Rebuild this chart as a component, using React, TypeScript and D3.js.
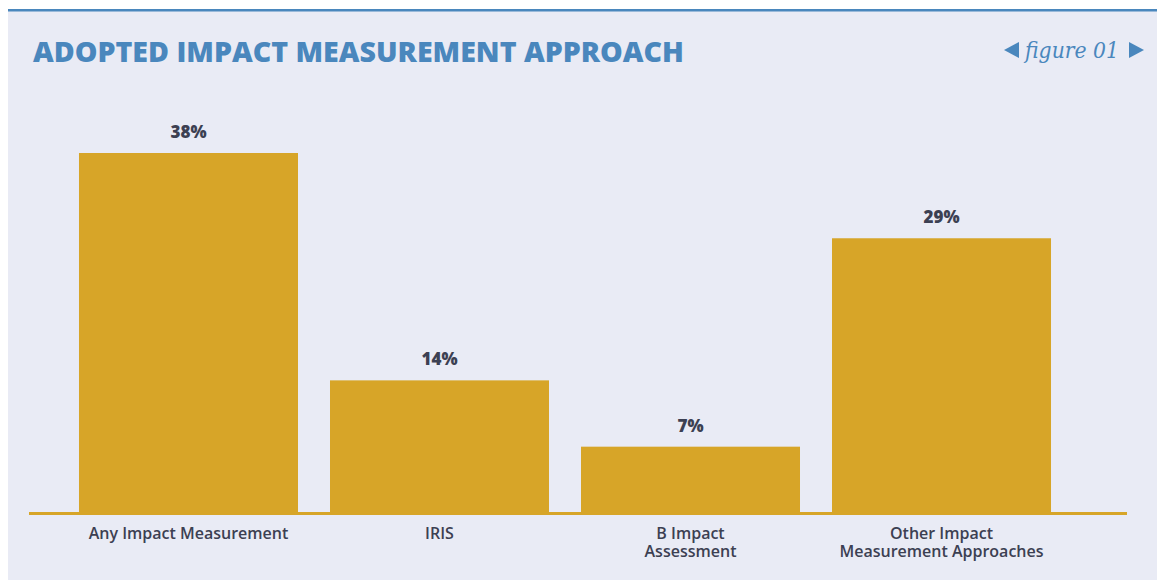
import React from 'react';
import * as d3 from 'd3';

const categories = [
  ['Any Impact Measurement'],
  ['IRIS'],
  ['B Impact', 'Assessment'],
  ['Other Impact', 'Measurement Approaches'],
];
const values = [38, 14, 7, 29];
const valueLabels = ['38%', '14%', '7%', '29%'];

const W = 1157;
const H = 580;
const BLUE = '#4a87bd';
const GOLD = '#d7a528';
const INK = '#3c4052';
const BG = '#e9ebf5';

export default function App() {
  const keys = categories.map(c => c.join(' '));
  const x = d3.scaleBand<string>()
    .domain(keys)
    .range([63, 1067])
    .paddingInner(0.1275)
    .paddingOuter(0.0637);
  const baseY = 513;
  const y = d3.scaleLinear().domain([0, 38]).range([baseY, 153]);

  return (
    <svg width={W} height={H} style={{ position: 'absolute', left: 0, top: 0 }}>
      <rect x={0} y={0} width={W} height={H} fill="#ffffff" />
      <rect x={8} y={9} width={W - 8} height={H - 9} fill={BG} />
      <rect x={8} y={9} width={W - 8} height={2.5} fill={BLUE} />

      <text x={33} y={62} fill={BLUE} fontFamily="'Open Sans', sans-serif" fontWeight={800}
        fontSize={28} textLength={651} lengthAdjust="spacingAndGlyphs">
        ADOPTED IMPACT MEASUREMENT APPROACH
      </text>

      <path d="M1004,50 L1019,42 L1019,58 Z" fill={BLUE} />
      <text x={1072} y={58} textAnchor="middle" fill={BLUE} fontFamily="'DejaVu Serif', serif"
        fontStyle="italic" fontSize={22} textLength={94} lengthAdjust="spacingAndGlyphs">
        figure 01
      </text>
      <path d="M1144,50 L1129,42 L1129,58 Z" fill={BLUE} />

      {values.map((v, i) => {
        const cx = (x(keys[i]) as number) + x.bandwidth() / 2;
        return (
          <g key={keys[i]}>
            <rect x={x(keys[i])} y={y(v)} width={x.bandwidth()} height={baseY - y(v)} fill={GOLD} />
            <text x={cx} y={y(v) - 15} textAnchor="middle"
              fill={INK} fontFamily="'Open Sans', sans-serif" fontWeight={800} fontSize={17}>
              {valueLabels[i]}
            </text>
            {categories[i].map((line, j) => (
              <text key={line} x={cx} y={539 + j * 18} textAnchor="middle" fill={INK}
                fontFamily="'Open Sans', sans-serif" fontWeight={600} fontSize={16}>
                {line}
              </text>
            ))}
          </g>
        );
      })}

      <line x1={29} x2={1127} y1={baseY + 0.5} y2={baseY + 0.5} stroke={GOLD} strokeWidth={3} />
    </svg>
  );
}
